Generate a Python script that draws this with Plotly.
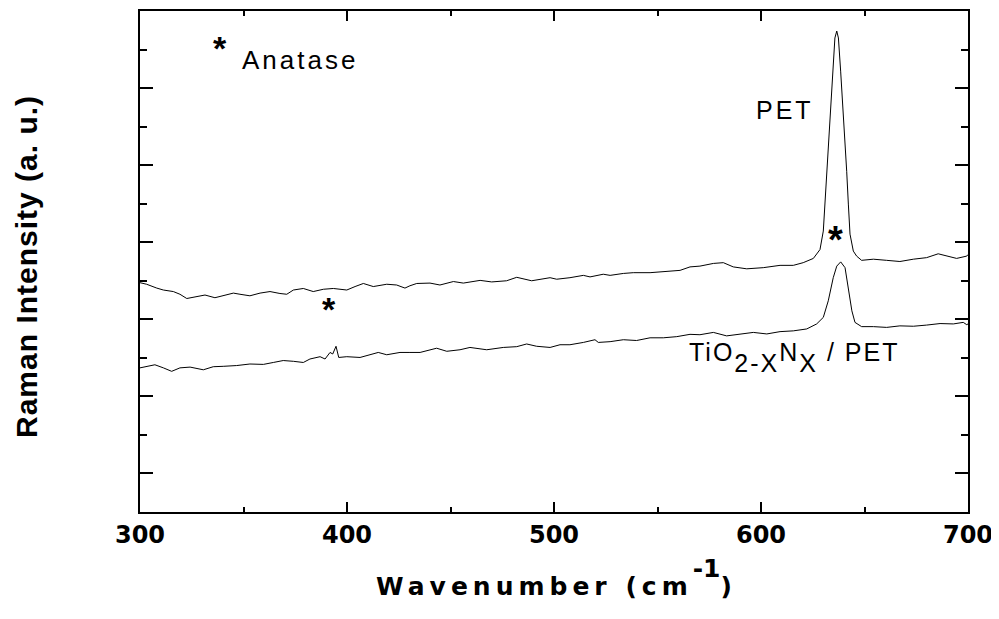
import plotly.graph_objects as go

# PET spectrum (upper curve)
pet_x = [300.0, 303.2, 308.1, 311.3, 316.1, 319.3, 322.6, 326.6, 331.4, 336.2, 340.2, 345.1, 348.3,
         353.1, 358.0, 362.8, 367.6, 370.9, 374.1, 378.9, 383.7, 388.6, 393.4, 399.9, 403.9, 407.9,
         412.7, 419.2, 424.0, 428.0, 430.4, 433.7, 440.1, 444.9, 451.4, 456.2, 464.3, 469.9, 477.1,
         482.0, 489.2, 498.1, 501.3, 507.7, 514.2, 517.4, 523.8, 527.1, 533.5, 538.3, 546.4, 554.4,
         560.9, 565.7, 570.5, 577.0, 581.8, 586.6, 593.1, 601.1, 609.2, 615.6, 620.4, 625.3, 628.5,
         630.1, 630.9, 631.7, 633.0, 634.6, 635.7, 636.6, 637.4, 638.5, 640.1, 641.4, 642.2, 643.0,
         644.6, 646.2, 648.6, 654.3, 660.7, 667.1, 673.6, 680.0, 685.6, 689.7, 694.5, 699.4, 700.0]
pet_y = [5.95, 5.91, 5.81, 5.76, 5.72, 5.65, 5.54, 5.58, 5.63, 5.56, 5.61, 5.68, 5.65,
         5.61, 5.68, 5.72, 5.67, 5.65, 5.76, 5.80, 5.72, 5.78, 5.80, 5.76, 5.85, 5.93,
         5.85, 5.91, 5.89, 5.81, 5.87, 5.93, 5.94, 5.89, 5.98, 5.94, 6.01, 5.97, 6.00,
         6.09, 6.00, 6.08, 6.04, 6.08, 6.14, 6.10, 6.17, 6.14, 6.19, 6.21, 6.21, 6.25,
         6.27, 6.36, 6.38, 6.45, 6.47, 6.36, 6.31, 6.34, 6.40, 6.40, 6.47, 6.58, 6.81,
         7.29, 7.99, 8.84, 10.13, 11.42, 12.30, 12.48, 12.30, 11.42, 10.13, 8.84, 7.99, 7.21,
         6.77, 6.64, 6.53, 6.56, 6.53, 6.50, 6.56, 6.60, 6.70, 6.64, 6.58, 6.64, 6.68]

# TiO2-xNx / PET spectrum (lower curve)
tin_x = [300.0, 303.2, 307.2, 311.3, 315.3, 319.3, 324.2, 330.6, 335.4, 340.2, 346.7, 353.1, 359.6,
         364.4, 369.2, 374.1, 378.9, 382.1, 387.0, 389.4, 391.8, 393.1, 394.7, 396.0, 399.9, 406.3,
         411.1, 415.1, 419.2, 425.6, 430.4, 435.3, 443.3, 448.2, 454.6, 459.4, 467.5, 475.5, 482.0,
         486.8, 491.6, 498.1, 502.9, 507.7, 514.2, 519.8, 521.4, 527.1, 533.5, 539.9, 546.4, 552.8,
         559.3, 565.7, 570.5, 577.0, 583.4, 589.9, 596.3, 602.8, 609.2, 615.6, 622.1, 626.9, 630.1,
         632.5, 634.9, 636.6, 638.5, 640.6, 642.2, 643.9, 645.4, 648.6, 654.3, 660.7, 667.1, 673.6,
         680.0, 686.5, 692.9, 697.7, 699.4, 700.0]
tin_y = [3.74, 3.77, 3.82, 3.74, 3.65, 3.74, 3.76, 3.69, 3.77, 3.78, 3.80, 3.84, 3.83,
         3.88, 3.93, 3.91, 3.88, 3.97, 4.03, 3.97, 4.14, 4.10, 4.30, 4.01, 4.03, 4.01,
         4.08, 4.14, 4.08, 4.14, 4.14, 4.14, 4.25, 4.17, 4.21, 4.27, 4.21, 4.27, 4.29,
         4.36, 4.30, 4.27, 4.34, 4.34, 4.40, 4.47, 4.40, 4.42, 4.47, 4.45, 4.52, 4.52,
         4.55, 4.61, 4.60, 4.66, 4.57, 4.62, 4.66, 4.62, 4.68, 4.70, 4.75, 4.88, 5.05,
         5.48, 6.08, 6.38, 6.49, 6.34, 5.82, 5.22, 4.92, 4.81, 4.81, 4.79, 4.83, 4.82,
         4.85, 4.89, 4.88, 4.92, 4.86, 4.88]

x_range = [300, 700]
y_range = [0, 13]
x_tickvals = [300, 400, 500, 600, 700]
x_ticktext = ["300", "400", "500", "600", "700"]

FONT = "Arial, Liberation Sans, Helvetica, sans-serif"
WIDE = "DejaVu Sans, Verdana, sans-serif"


def spaced(s, px):
    return '<span style="letter-spacing:%spx">%s</span>' % (px, s)


fig = go.Figure()
fig.add_trace(go.Scatter(x=pet_x, y=pet_y, mode="lines",
                         line=dict(color="black", width=1), name="PET", showlegend=False))
fig.add_trace(go.Scatter(x=tin_x, y=tin_y, mode="lines",
                         line=dict(color="black", width=1), name="TiO2-xNx / PET", showlegend=False))

axis_common = dict(showline=True, linecolor="black", linewidth=2, mirror="ticks",
                   ticks="inside", tickcolor="black", tickwidth=2, showgrid=False, zeroline=False)

fig.update_xaxes(range=x_range, tickvals=x_tickvals, ticktext=x_ticktext,
                 ticklen=10,
                 minor=dict(ticks="inside", dtick=50, tick0=300, ticklen=5, tickwidth=2, tickcolor="black"),
                 tickfont=dict(family=WIDE, size=24, color="black", weight="bold"),
                 title=dict(text=spaced("Wavenumber (cm", 5) +
                            '<sup><span style="font-size:25px;baseline-shift:8px">-1</span></sup>)',
                            standoff=30,
                            font=dict(family=WIDE, size=25, color="black", weight="bold")),
                 **axis_common)
fig.update_yaxes(range=y_range, tick0=1, dtick=2, ticklen=13, showticklabels=False,
                 minor=dict(ticks="inside", dtick=1, tick0=0, ticklen=7, tickwidth=2, tickcolor="black"),
                 **axis_common)

sub_style = "font-size:25px;letter-spacing:2px;baseline-shift:-6px"
annots = [
    dict(xref="paper", yref="paper", x=-0.1377, y=0.491, text=spaced("Raman Intensity (a. u.)", 1),
         textangle=-90, font=dict(family=FONT, size=30, color="black", weight="bold"),
         xanchor="center", yanchor="middle"),
    dict(x=338.6, y=12.04, text="*", font=dict(family=FONT, size=34, color="black", weight="bold"),
         xanchor="center", yanchor="middle", yshift=0),
    dict(x=348.3, y=11.73, text=spaced("Anatase", 3), font=dict(family=FONT, size=26, color="black"),
         xanchor="left", yanchor="middle"),
    dict(x=611.6, y=10.44, text=spaced("PET", 3), font=dict(family=FONT, size=25, color="black"),
         xanchor="center", yanchor="middle"),
    dict(x=636.2, y=7.13, text="*", font=dict(family=FONT, size=38, color="black", weight="bold"),
         xanchor="center", yanchor="middle", yshift=-3),
    dict(x=391.3, y=5.30, text="*", font=dict(family=FONT, size=34, color="black", weight="bold"),
         xanchor="center", yanchor="middle", yshift=-1),
    dict(x=564.3, y=4.0,
         text=spaced("TiO", 2) + '<sub><span style="%s">2-X</span></sub>' % sub_style
              + spaced("N", 2) + '<sub><span style="%s">X</span></sub>' % sub_style
              + spaced(" / PET", 2),
         font=dict(family=FONT, size=25, color="black"), xanchor="left", yanchor="middle"),
]
for a in annots:
    a.setdefault("xref", "x")
    a.setdefault("yref", "y")
    a["showarrow"] = False
    fig.add_annotation(**a)

# page body has an 8px margin: shift the plot area so it lands where the reference has it
fig.update_layout(width=999, height=619, margin=dict(l=132, r=39, t=1, b=115),
                  paper_bgcolor="white", plot_bgcolor="white")

fig.write_html("out.html")
